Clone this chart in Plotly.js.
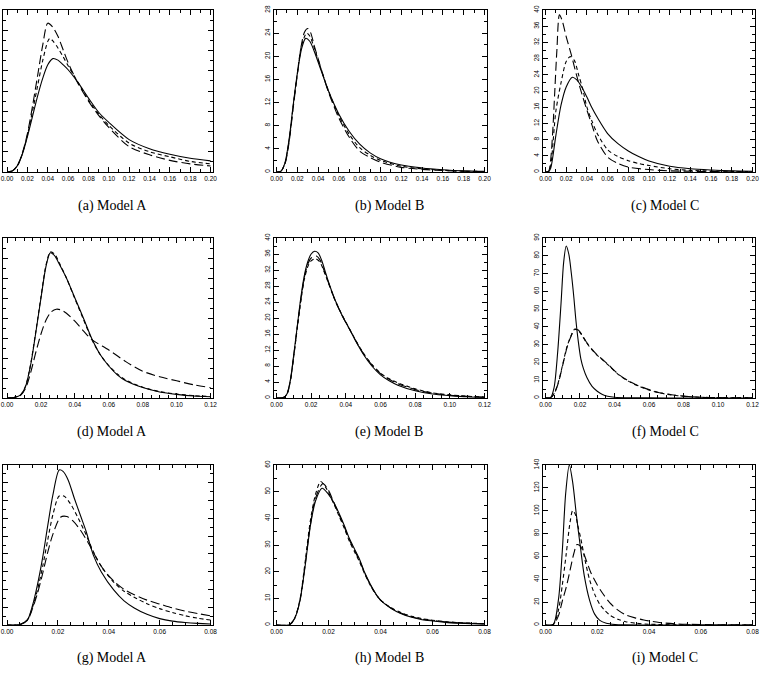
<!DOCTYPE html>
<html>
<head>
<meta charset="utf-8">
<script src="https://cdn.plot.ly/plotly-3.0.1.min.js"></script>
<style>
  html, body { margin: 0; padding: 0; background: #fff; }
  #chart { width: 765px; height: 673px; }
</style>
</head>
<body>
<div id="chart"></div>
<script>
// ---- (a) Model A, row 1 ----
const a_x_solid = [0,0.005,0.01,0.015,0.02,0.025,0.03,0.035,0.04,0.045,0.05,0.055,0.06,0.07,0.08,0.09,0.10,0.12,0.14,0.16,0.18,0.20];
const a_y_solid = [0,0.2,1.2,3.5,7,11,15,18.5,21.2,22.4,22.1,21.2,20.2,17.6,14.6,11.8,9.8,6.4,4.6,3.5,2.7,2.2];
const a_x_dash  = [0,0.005,0.01,0.015,0.02,0.025,0.03,0.035,0.04,0.042,0.045,0.05,0.055,0.06,0.07,0.08,0.09,0.10,0.12,0.14,0.16,0.18,0.20];
const a_y_dash  = [0,0.2,1.2,3.6,7.3,12,17,22,25.8,26.4,25.9,24.5,22.8,21,17.6,14.2,11.5,9.2,5.7,4.0,3.0,2.1,1.6];
const a_x_long  = [0,0.005,0.01,0.015,0.02,0.025,0.03,0.035,0.04,0.045,0.05,0.055,0.06,0.07,0.08,0.09,0.10,0.12,0.14,0.16,0.18,0.20];
const a_y_long  = [0,0.2,1.2,3.7,7.6,13,19,25,29.4,28.6,26.8,24.2,21.6,17.4,14,11.2,8.8,5.0,3.4,2.3,1.6,1.2];

// ---- (b) Model B, row 1 ----
const b_x_solid = [0,0.004,0.008,0.012,0.016,0.02,0.024,0.028,0.032,0.036,0.04,0.045,0.05,0.06,0.07,0.08,0.09,0.10,0.12,0.14,0.16,0.18,0.20];
const b_y_solid = [0,0.1,1.5,5.5,11.5,17,21.2,23.1,22.6,21,19,16.5,14,10,7,4.8,3.3,2.3,1.2,0.7,0.4,0.2,0.1];
const b_x_dash  = [0,0.004,0.008,0.012,0.016,0.02,0.024,0.029,0.032,0.036,0.04,0.045,0.05,0.06,0.07,0.08,0.09,0.10,0.12,0.14,0.16,0.18,0.20];
const b_y_dash  = [0,0.1,1.4,5.3,11.3,17,21.8,24.0,23.5,21.6,19.4,16.6,14,9.7,6.5,4.2,2.9,2.0,1.0,0.55,0.3,0.15,0.08];
const b_x_long  = [0,0.004,0.008,0.012,0.016,0.02,0.024,0.027,0.030,0.033,0.036,0.04,0.045,0.05,0.06,0.07,0.08,0.09,0.10,0.12,0.14,0.16,0.18,0.20];
const b_y_long  = [0,0.1,1.3,5.0,11,16.8,22,24.2,24.8,24,22,19.6,16.6,13.8,9.3,6.0,3.6,2.5,1.7,0.8,0.45,0.25,0.12,0.06];

// ---- (c) Model C, row 1 ----
const c_x_solid = [0,0.003,0.005,0.01,0.015,0.02,0.026,0.03,0.035,0.04,0.045,0.05,0.06,0.07,0.08,0.09,0.10,0.12,0.14,0.16,0.18,0.20];
const c_y_solid = [0,0.1,0.9,9,16.5,21,23.4,22.8,21,18.5,15.8,13.5,9.5,7,5.2,3.8,2.7,1.4,0.8,0.5,0.3,0.2];
const c_x_dash  = [0,0.003,0.005,0.01,0.015,0.02,0.024,0.028,0.032,0.036,0.04,0.045,0.05,0.06,0.07,0.08,0.09,0.10,0.12,0.14,0.16,0.18,0.20];
const c_y_dash  = [0,0.1,1.5,15,22,27.3,28.5,27.5,24,20.5,16,12.5,9.5,5.5,3.8,2.8,2.1,1.6,0.8,0.4,0.25,0.15,0.1];
const c_x_long  = [0,0.003,0.005,0.007,0.009,0.011,0.0135,0.016,0.02,0.025,0.03,0.035,0.04,0.045,0.05,0.06,0.07,0.08,0.10,0.12,0.16,0.20];
const c_y_long  = [0,0.2,3,10,20,30,38.8,37.5,33.4,28.9,23.9,19.4,15.3,11.5,7.8,3.7,2.1,1.2,0.6,0.3,0.1,0.05];

// ---- (d) Model A, row 2 ----
const d_x_solid = [0,0.004,0.008,0.011,0.014,0.017,0.02,0.023,0.0255,0.028,0.031,0.035,0.04,0.045,0.05,0.055,0.06,0.065,0.07,0.08,0.09,0.10,0.11,0.12];
const d_y_solid = [0,0.1,0.8,3,8.5,16.5,25,33,36.3,35.6,33.3,30,25,20,14.8,10.8,8,5.8,4.3,2.6,1.5,0.9,0.5,0.3];
const d_x_dash  = [0,0.004,0.008,0.011,0.014,0.017,0.02,0.023,0.0255,0.028,0.031,0.035,0.04,0.045,0.05,0.055,0.06,0.065,0.07,0.08,0.09,0.10,0.11,0.12];
const d_y_dash  = [0,0.1,0.8,3.1,8.7,16.8,25.3,33.3,36.5,36,33.6,30,24.8,19.7,14.6,10.8,8.1,6,4.5,2.7,1.6,1.0,0.6,0.35];
const d_x_long  = [0,0.004,0.008,0.011,0.014,0.017,0.02,0.023,0.026,0.029,0.032,0.035,0.04,0.045,0.05,0.06,0.07,0.08,0.09,0.10,0.11,0.12];
const d_y_long  = [0,0.1,0.7,2.5,6.5,11.5,16,19.5,21.5,22.2,22,21.2,19.2,16.8,14.6,12,9.1,6.7,5.3,4.3,3.3,2.6];

// ---- (e) Model B, row 2 ----
const e_x_solid = [0,0.004,0.006,0.008,0.010,0.012,0.014,0.016,0.018,0.020,0.022,0.024,0.026,0.028,0.030,0.034,0.038,0.042,0.046,0.05,0.055,0.06,0.065,0.07,0.08,0.09,0.10,0.11,0.12];
const e_y_solid = [0,0.1,1,4.5,11,18,25,30.5,34,36,36.7,36.3,34.5,31.8,29,24.3,20.5,17.3,14,11,8,5.8,4.3,3.2,1.8,1.0,0.6,0.3,0.15];
const e_x_dash  = [0,0.004,0.006,0.008,0.010,0.012,0.014,0.016,0.018,0.020,0.0225,0.025,0.028,0.030,0.034,0.038,0.042,0.046,0.05,0.055,0.06,0.065,0.07,0.08,0.09,0.10,0.11,0.12];
const e_y_dash  = [0,0.1,0.9,4.2,10.5,17.5,24,29.5,32.8,34.3,34.8,34,31,28.7,24.2,20.6,17.4,14.2,11.3,8.4,6.2,4.8,3.8,2.3,1.3,0.8,0.45,0.25];
const e_x_long  = [0,0.004,0.006,0.008,0.010,0.012,0.014,0.016,0.018,0.020,0.023,0.025,0.028,0.030,0.034,0.038,0.042,0.046,0.05,0.055,0.06,0.065,0.07,0.08,0.09,0.10,0.11,0.12];
const e_y_long  = [0,0.1,0.9,4.3,10.7,17.8,24.4,30,33.4,35,35.5,34.6,31.2,28.8,24.2,20.5,17.3,14.1,11.2,8.3,6.1,4.7,3.6,2.1,1.2,0.7,0.4,0.2];

// ---- (f) Model C, row 2 ----
const f_x_solid = [0,0.003,0.005,0.007,0.009,0.0105,0.012,0.0135,0.015,0.0165,0.0175,0.019,0.0205,0.022,0.024,0.027,0.03,0.033,0.036,0.04,0.05,0.06,0.08,0.10,0.12];
const f_y_solid = [0,0.3,6,25,53,76,85.5,81,70,56,45,32,22,16.5,11.5,6.5,3.8,2,1,0.4,0.1,0.05,0,0,0];
const f_x_dash  = [0,0.003,0.005,0.0075,0.01,0.0125,0.015,0.017,0.019,0.021,0.0235,0.027,0.03,0.033,0.037,0.0425,0.048,0.0525,0.06,0.066,0.073,0.08,0.09,0.10,0.11,0.12];
const f_y_dash  = [0,0.2,2.5,9,19,29,35.5,38.8,38,35.5,31.5,27,24,21.5,18,13,9.5,7.3,4.5,2.9,1.7,1.0,0.4,0.2,0.1,0.05];
const f_x_long  = [0,0.003,0.005,0.0075,0.01,0.0125,0.015,0.017,0.019,0.021,0.0235,0.027,0.03,0.033,0.037,0.0425,0.048,0.0525,0.06,0.066,0.073,0.08,0.09,0.10,0.11,0.12];
const f_y_long  = [0,0.2,2.3,8.6,18.5,28.5,35.2,38.5,38.2,35.8,31.8,27.3,24.2,21.7,18.2,13.2,9.7,7.5,4.7,3.0,1.8,1.05,0.45,0.22,0.1,0.05];

// ---- (g) Model A, row 3 ----
const g_x_solid = [0,0.005,0.008,0.01,0.012,0.014,0.016,0.018,0.0205,0.022,0.024,0.0265,0.029,0.031,0.034,0.037,0.042,0.046,0.05,0.055,0.06,0.065,0.07,0.075,0.08];
const g_y_solid = [0,0.1,1.5,5.5,11.5,19,28,36.5,43.6,43.2,40.8,35.5,30.5,26.5,19.5,15,9.8,6.8,4.8,3,1.8,1.1,0.7,0.45,0.3];
const g_x_dash  = [0,0.005,0.008,0.01,0.012,0.014,0.016,0.018,0.0205,0.0225,0.025,0.028,0.031,0.034,0.037,0.042,0.046,0.05,0.055,0.06,0.065,0.07,0.075,0.08];
const g_y_dash  = [0,0.1,1.4,5,10,16.5,24,31,36.3,36.2,34,30,25.5,20.5,16.5,12,9.5,7.8,6,4.6,3.5,2.6,1.9,1.4];
const g_x_long  = [0,0.005,0.008,0.01,0.012,0.014,0.016,0.018,0.021,0.0235,0.026,0.029,0.032,0.035,0.038,0.042,0.046,0.05,0.055,0.06,0.065,0.07,0.075,0.08];
const g_y_long  = [0,0.1,1.3,4.6,9,14.5,20.5,25.5,30.3,30.5,29.2,26.5,23,19,15.5,12.3,10,8.5,7,5.9,4.8,3.9,3.2,2.6];

// ---- (h) Model B, row 3 ----
const h_x_solid = [0,0.005,0.007,0.009,0.011,0.013,0.015,0.0175,0.02,0.022,0.024,0.026,0.028,0.03,0.032,0.034,0.036,0.038,0.04,0.044,0.048,0.052,0.056,0.06,0.065,0.07,0.075,0.08];
const h_y_solid = [0,0.1,2.5,9,22,37,46.5,51.3,49,46,42,37.5,32.5,28.5,24.5,19.5,15.5,12,9.3,6.3,4.2,2.9,2.0,1.5,1.0,0.7,0.5,0.35];
const h_x_dash  = [0,0.005,0.007,0.009,0.011,0.013,0.015,0.017,0.019,0.022,0.024,0.026,0.028,0.03,0.032,0.034,0.036,0.038,0.04,0.044,0.048,0.052,0.056,0.06,0.065,0.07,0.075,0.08];
const h_y_dash  = [0,0.1,2.6,9.5,23.5,39,49,53.8,51.5,45.5,41,36.5,31.5,27.5,23.5,19,15,11.8,9.3,6.5,4.6,3.3,2.4,1.8,1.3,0.9,0.7,0.5];
const h_x_long  = [0,0.005,0.007,0.009,0.011,0.013,0.015,0.0178,0.02,0.022,0.024,0.026,0.028,0.03,0.032,0.034,0.036,0.038,0.04,0.044,0.048,0.052,0.056,0.06,0.065,0.07,0.075,0.08];
const h_y_long  = [0,0.1,2.4,9,22.5,37.5,47.5,53,50.5,46,41.5,37,32,28,24,19.3,15.2,12,9.4,6.4,4.4,3.1,2.2,1.7,1.2,0.8,0.6,0.4];

// ---- (i) Model C, row 3 ----
const i_x_solid = [0,0.003,0.005,0.0065,0.0078,0.0092,0.0105,0.012,0.0135,0.015,0.017,0.019,0.021,0.0235,0.027,0.03,0.04,0.06,0.08];
const i_y_solid = [0,0.5,22,65,115,140,125,95,68,43,22,9.5,4,1.5,0.4,0.1,0,0,0];
const i_x_dash  = [0,0.003,0.005,0.0065,0.008,0.0095,0.0105,0.0115,0.0125,0.0137,0.015,0.017,0.019,0.021,0.023,0.025,0.028,0.031,0.035,0.04,0.05,0.06,0.08];
const i_y_dash  = [0,0.5,13,35,62,90,100,97,87,75,60,40,27,18,12.5,8.5,5,2.9,1.5,0.7,0.2,0.05,0];
const i_x_long  = [0,0.003,0.005,0.0065,0.008,0.0095,0.011,0.0122,0.0135,0.0157,0.0175,0.0196,0.022,0.0248,0.028,0.031,0.035,0.038,0.044,0.051,0.06,0.07,0.08];
const i_y_long  = [0,0.4,8,21,33,48,63,70.4,69,57,46,36.7,28,19.5,13,8.8,6,4.4,2.2,0.9,0.4,0.15,0.05];

// Axis settings per panel
const panelLabels = ['(a) Model A','(b) Model B','(c) Model C',
                     '(d) Model A','(e) Model B','(f) Model C',
                     '(g) Model A','(h) Model B','(i) Model C'];
const xMax   = [0.20,0.20,0.20, 0.12,0.12,0.12, 0.08,0.08,0.08];
const xStep  = [0.02,0.02,0.02, 0.02,0.02,0.02, 0.02,0.02,0.02];
const xMinor = [0.01,0.01,0.01, 0.005,0.005,0.005, 0.005,0.005,0.005];
const yMax   = [32,28,40, 40,40,90, 45,60,140];
const yStep  = [4,4,4, 5,4,10, 5,10,20];

const curves = [
  [[a_x_solid,a_y_solid],[a_x_dash,a_y_dash],[a_x_long,a_y_long]],
  [[b_x_solid,b_y_solid],[b_x_dash,b_y_dash],[b_x_long,b_y_long]],
  [[c_x_solid,c_y_solid],[c_x_dash,c_y_dash],[c_x_long,c_y_long]],
  [[d_x_solid,d_y_solid],[d_x_dash,d_y_dash],[d_x_long,d_y_long]],
  [[e_x_solid,e_y_solid],[e_x_dash,e_y_dash],[e_x_long,e_y_long]],
  [[f_x_solid,f_y_solid],[f_x_dash,f_y_dash],[f_x_long,f_y_long]],
  [[g_x_solid,g_y_solid],[g_x_dash,g_y_dash],[g_x_long,g_y_long]],
  [[h_x_solid,h_y_solid],[h_x_dash,h_y_dash],[h_x_long,h_y_long]],
  [[i_x_solid,i_y_solid],[i_x_dash,i_y_dash],[i_x_long,i_y_long]]
];

// Page geometry (pixels)
const W = 765, H = 673;
const colSpans = [[3,213],[274,487],[543,755]];
const rowSpans = [[10,172],[238,398],[465,625]];
const captionX = [112, 389, 665];
const captionY = [206, 432, 658];
// left padding of the x range, as a fraction of the span (first column keeps its 0.00 label on the page)
const padLeft = [0.02, 0.012, 0.012];

const dashStyles = ['solid', '4px,3px', '9px,4px'];

const traces = [];
const layout = {
  width: W, height: H,
  margin: {l: 0, r: 0, t: 0, b: 0},
  paper_bgcolor: '#fff', plot_bgcolor: '#fff',
  showlegend: false,
  annotations: []
};

const tickFont = {family: 'Liberation Sans, Arial, sans-serif', size: 6.5, color: '#000'};

for (let p = 0; p < 9; p++) {
  const r = Math.floor(p / 3), c = p % 3;
  const n = p + 1;
  const xa = n === 1 ? 'x' : 'x' + n;
  const ya = n === 1 ? 'y' : 'y' + n;

  curves[p].forEach((cv, k) => {
    traces.push({
      x: cv[0], y: cv[1], xaxis: xa, yaxis: ya,
      type: 'scatter', mode: 'lines',
      line: {color: '#000', width: 1.1, dash: dashStyles[k], shape: 'spline', smoothing: 0.8},
      hoverinfo: 'skip', cliponaxis: true
    });
  });

  const common = {
    showgrid: false, zeroline: false,
    showline: true, linecolor: '#000', linewidth: 1, mirror: 'ticks',
    ticks: 'inside', ticklen: 5, tickwidth: 1, tickcolor: '#000',
    tickfont: tickFont, fixedrange: true, ticklabeloverflow: 'allow'
  };

  layout[(n === 1 ? 'xaxis' : 'xaxis' + n)] = Object.assign({}, common, {
    domain: [colSpans[c][0] / W, colSpans[c][1] / W],
    anchor: ya,
    range: [-xMax[p] * padLeft[c], xMax[p] * 1.012],
    tick0: 0, dtick: xStep[p], tickformat: '.2f',
    minor: {dtick: xMinor[p], tick0: 0, ticks: 'inside', ticklen: 3, tickcolor: '#000', tickwidth: 1}
  });
  layout[(n === 1 ? 'yaxis' : 'yaxis' + n)] = Object.assign({}, common, {
    domain: [1 - rowSpans[r][1] / H, 1 - rowSpans[r][0] / H],
    anchor: xa,
    range: [0, yMax[p]],
    tick0: 0, dtick: yStep[p], tickangle: -90,
    minor: {dtick: yStep[p] / 2, tick0: 0, ticks: 'inside', ticklen: 3, tickcolor: '#000', tickwidth: 1}
  });

  layout.annotations.push({
    text: panelLabels[p], xref: 'paper', yref: 'paper',
    x: captionX[c] / W, y: 1 - captionY[r] / H,
    xanchor: 'center', yanchor: 'middle', showarrow: false,
    font: {family: 'Liberation Serif, DejaVu Serif, serif', size: 14, color: '#000'}
  });
}

Plotly.newPlot('chart', traces, layout, {staticPlot: true, displayModeBar: false});
</script>
</body>
</html>
